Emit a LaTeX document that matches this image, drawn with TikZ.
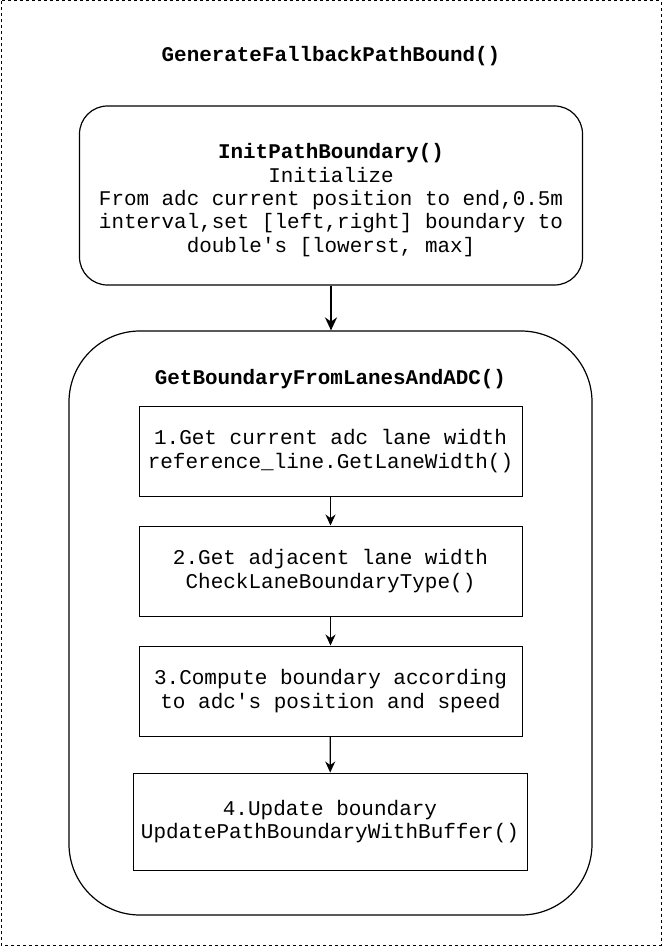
\documentclass[tikz,border=0pt]{standalone}
\usepackage{fontspec}
\setmainfont{Liberation Mono}
\usetikzlibrary{arrows.meta}
\tikzset{auto}

\begin{document}
\begin{tikzpicture}[x=1pt, y=-1pt,
    title/.style={font=\fontsize{20.9}{24}\selectfont\bfseries},
    outer/.style={draw, line width=1.2pt, rounded corners=28pt, inner sep=0pt},
    outertext/.style={align=center, inner sep=0pt, font=\fontsize{20.9}{23.4}\selectfont},
    group/.style={draw, line width=1.2pt, rounded corners=71pt, inner sep=0pt},
    stepbox/.style={draw, line width=1pt, align=center, inner sep=0pt,
      font=\fontsize{21}{23.4}\selectfont},
    flow/.style={-{Stealth[length=11pt, width=10pt]}, line width=1.2pt}]
        \useasboundingbox (0,0) rectangle (662,947);
        \draw[dash pattern=on 3pt off 3pt, line width=1pt] (1,1) rectangle (661,945);
        \node[title] (main) at (331,56) {GenerateFallbackPathBound()};
        \node[outer, minimum width=503pt, minimum height=179pt] (init) at (331,195.5) {};
        \node[outertext] (inittext) at (331,200)
          {\textbf{InitPathBoundary()}\\Initialize\\From adc current position to end,0.5m\\
           interval,set [left,right] boundary to\\double\textquotesingle s [lowerst, max]};
        \node[group, minimum width=523pt, minimum height=584pt] (lanes) at (330.5,623) {};
        \node[title] (lanestitle) at (330.5,379) {GetBoundaryFromLanesAndADC()};
        \node[stepbox, minimum width=383pt, minimum height=90pt] (s1) at (330.5,451)
          {1.Get current adc lane width\\reference\_line.GetLaneWidth()};
        \node[stepbox, minimum width=383pt, minimum height=90pt] (s2) at (330.5,571)
          {2.Get adjacent lane width\\CheckLaneBoundaryType()};
        \node[stepbox, minimum width=383pt, minimum height=90pt] (s3) at (330.5,691)
          {3.Compute boundary according\\to adc\textquotesingle s position and speed};
        \node[stepbox, minimum width=394pt, minimum height=97pt] (s4) at (330,821.5)
          {4.Update boundary\\UpdatePathBoundaryWithBuffer()};
        \draw[flow, line width=2pt, -{Stealth[length=13pt, width=12pt]}] (init.south -| 331,0) -- (lanes.north -| 331,0);
        \draw[flow] (s1) -- (s2);
        \draw[flow] (s2) -- (s3);
        \draw[flow] (s3) -- (s4);
      \end{tikzpicture}
\end{document}
